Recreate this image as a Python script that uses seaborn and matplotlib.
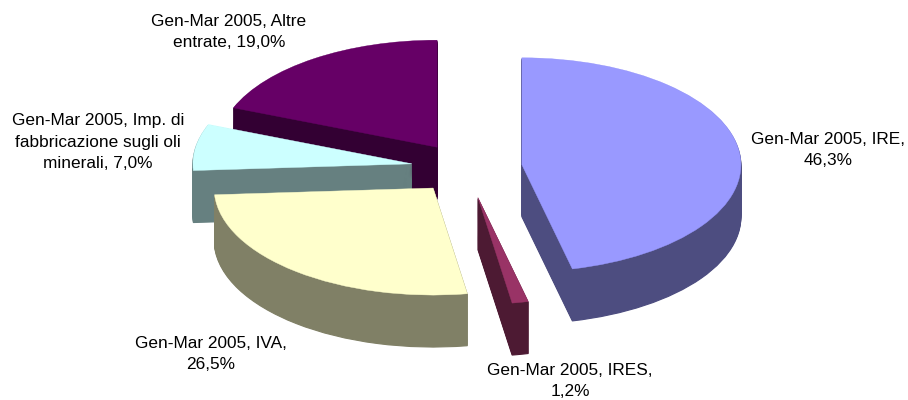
import numpy as np
import seaborn as sns
import matplotlib.pyplot as plt

categories = ["IRE", "IRES", "IVA", "Imp. di fabbricazione sugli oli minerali", "Altre entrate"]
shares = [46.3, 1.2, 26.5, 7.0, 19.0]
top_colors = ["#9999ff", "#993366", "#ffffcc", "#ccffff", "#660066"]
side_colors = ["#4d4d80", "#4d1a33", "#808066", "#668080", "#330033"]
label_texts = [
    "Gen-Mar 2005, IRE,\n46,3%",
    "Gen-Mar 2005, IRES,\n1,2%",
    "Gen-Mar 2005, IVA,\n26,5%",
    "Gen-Mar 2005, Imp. di\nfabbricazione sugli oli\nminerali, 7,0%",
    "Gen-Mar 2005, Altre\nentrate, 19,0%",
]

sns.set_theme(style="white")
plt.rcParams["font.family"] = ["Liberation Sans", "DejaVu Sans"]

explode = [0.257, 0.28, 0.24, 0.25, 0.235]
# back to front
draw_order = [4, 3, 2, 0, 1]
label_pos = [(828, 150), (570, 381), (211, 354), (98, 142), (229, 32)]

fig = plt.figure(figsize=(9.08, 4.0), dpi=100)
ax = fig.add_axes([0, 0, 1, 1])

# extrude the pie by stacking dark copies below the top face
depth = 52 / 107
levels = np.linspace(depth, 0.01, 50)
for d in levels:
    wedges, _ = ax.pie(
        shares, explode=explode, colors=sns.color_palette(side_colors),
        startangle=90, counterclock=False, center=(0, -d),
    )
    for i, w in enumerate(wedges):
        w.set_edgecolor(w.get_facecolor())
        w.set_linewidth(0.8)
        w.set_zorder(draw_order.index(i) * 2 + 1)

wedges, _ = ax.pie(
    shares, explode=explode, colors=sns.color_palette(top_colors),
    startangle=90, counterclock=False, center=(0, 0),
)
for i, w in enumerate(wedges):
    w.set_edgecolor(w.get_facecolor())
    w.set_linewidth(0.3)
    w.set_zorder(draw_order.index(i) * 2 + 2)

ax.set_aspect("auto")
ax.set_xlim(-466 / 219, (908 - 466) / 219)
ax.set_ylim(-(400 - 168) / 107, 168 / 107)
ax.axis("off")

for txt, (px, py) in zip(label_texts, label_pos):
    fig.text(px / 908, 1 - py / 400, txt, ha="center", va="center",
             fontsize=12.4, color="black", linespacing=1.55)

fig.savefig("out.png", dpi=100, facecolor="white")
